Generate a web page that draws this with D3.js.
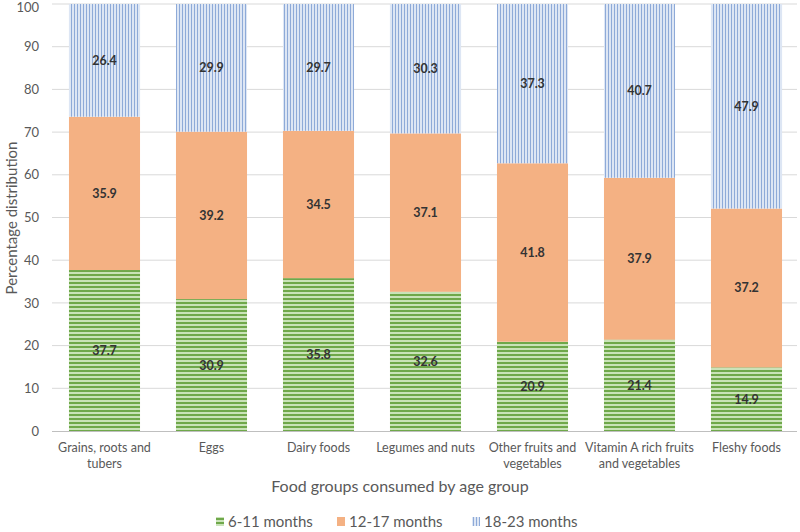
<!DOCTYPE html>
<html><head><meta charset="utf-8">
<script src="https://cdn.jsdelivr.net/npm/d3@7"></script>
<style>body{margin:0;background:#fff}svg{display:block}</style>
</head><body>
<script>
const categories = ["Grains, roots and tubers","Eggs","Dairy foods","Legumes and nuts","Other fruits and vegetables","Vitamin A rich fruits and vegetables","Fleshy foods"];
const categoryLines = [["Grains, roots and","tubers"],["Eggs"],["Dairy foods"],["Legumes and nuts"],["Other fruits and","vegetables"],["Vitamin A rich fruits","and vegetables"],["Fleshy foods"]];
const seriesNames = ["6-11 months","12-17 months","18-23 months"];
const s611 = [37.7,30.9,35.8,32.6,20.9,21.4,14.9];
const s1217 = [35.9,39.2,34.5,37.1,41.8,37.9,37.2];
const s1823 = [26.4,29.9,29.7,30.3,37.3,40.7,47.9];
const yTicks = [0,10,20,30,40,50,60,70,80,90,100];

const W=800,H=532;
const svg=d3.select("body").append("svg").attr("width",W).attr("height",H);
const font="Lato, 'Open Sans', sans-serif";
const defs=svg.append("defs");
const pg=defs.append("pattern").attr("id","pGreen").attr("patternUnits","userSpaceOnUse").attr("width",8).attr("height",4);
pg.append("rect").attr("width",8).attr("height",4).attr("fill","#c9e3b8");
pg.append("rect").attr("y",2).attr("width",8).attr("height",2).attr("fill","#6fa84a");
const pb=defs.append("pattern").attr("id","pBlue").attr("patternUnits","userSpaceOnUse").attr("width",3).attr("height",8);
pb.append("rect").attr("width",3).attr("height",8).attr("fill","#dde6f4");
pb.append("rect").attr("x",2).attr("width",1).attr("height",8).attr("fill","#8eaad8");
const fills=["url(#pGreen)","#f4b183","url(#pBlue)"];

const x=d3.scaleBand().domain(categories).range([51,800]).paddingInner(0.336).paddingOuter(0.168);
const y=d3.scaleLinear().domain([0,100]).range([431,4]);

// gridlines
svg.append("g").selectAll("line").data(yTicks.filter(d=>d>0)).join("line")
 .attr("x1",52).attr("x2",797).attr("y1",d=>y(d)).attr("y2",d=>y(d))
 .attr("stroke","#d9d9d9").attr("stroke-width",1);

const yAxis=d3.axisLeft(y).tickValues(yTicks).tickSize(0).tickPadding(0);
const ya=svg.append("g").attr("transform","translate(39,0)").call(yAxis);
ya.select(".domain").remove();
ya.selectAll("text").attr("font-family",font).attr("font-size",13).attr("fill","#595959")
  .attr("dy",d=>d===100?"0.55em":"0.32em");

const stack=d3.stack().keys([0,1,2]).value((d,k)=>d[k]);
const rows=categories.map((c,i)=>[s611[i],s1217[i],s1823[i]]);
const layers=stack(rows);
layers.forEach((layer,k)=>{
  const g=svg.append("g");
  g.selectAll("rect").data(layer).join("rect")
   .attr("x",(d,i)=>x(categories[i])).attr("width",x.bandwidth())
   .attr("y",d=>y(d[1])).attr("height",d=>y(d[0])-y(d[1]))
   .attr("fill",fills[k]);
  g.selectAll("text").data(layer).join("text")
   .attr("x",(d,i)=>x(categories[i])+x.bandwidth()/2)
   .attr("y",d=>y((d[0]+d[1])/2)+4.5)
   .attr("text-anchor","middle").attr("font-family",font).attr("font-weight","bold")
   .attr("font-size",12.5).attr("fill","#333")
   .text((d,i)=>rows[i][k].toFixed(1));
});

// x axis line
svg.append("line").attr("x1",52).attr("x2",797).attr("y1",y(0)+0.5).attr("y2",y(0)+0.5).attr("stroke","#bfbfbf");

// category labels
const xl=svg.append("g");
categories.forEach((c,i)=>{
  const t=xl.append("text").attr("x",x(c)+x.bandwidth()/2).attr("y",452).attr("text-anchor","middle")
   .attr("font-family",font).attr("font-size",12.5).attr("fill","#595959");
  categoryLines[i].forEach((ln,j)=>t.append("tspan").attr("x",x(c)+x.bandwidth()/2).attr("dy",j?16:0).text(ln));
});

svg.append("text").attr("x",400).attr("y",492).attr("text-anchor","middle").attr("font-family",font)
 .attr("font-size",16).attr("fill","#595959").text("Food groups consumed by age group");
svg.append("text").attr("transform","translate(17,218) rotate(-90)").attr("text-anchor","middle").attr("font-family",font)
 .attr("font-size",15).attr("fill","#595959").text("Percentage distribution");

// legend
const legX=[216,337,472];
seriesNames.forEach((n,k)=>{
  svg.append("rect").attr("x",legX[k]).attr("y",517).attr("width",8).attr("height",9).attr("fill",fills[k]);
  svg.append("text").attr("x",legX[k]+12).attr("y",527).attr("font-family",font).attr("font-size",15)
   .attr("fill","#595959").text(n);
});
</script>
</body></html>
